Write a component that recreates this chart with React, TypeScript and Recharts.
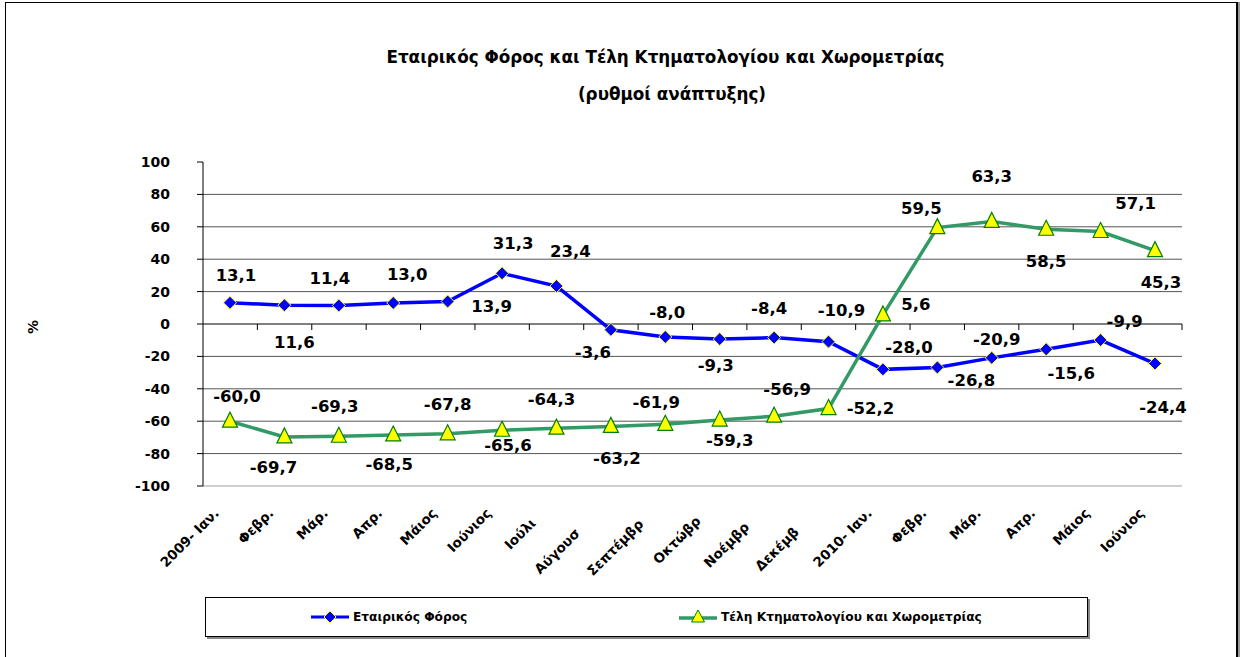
import React from "react";
import { LineChart, Line, XAxis, YAxis, ReferenceLine } from "recharts";

const months = [
  "2009- Ιαν.", "Φεβρ.", "Μάρ.", "Απρ.", "Μάιος", "Ιούνιος", "Ιούλι", "Αύγουσ", "Σεπτέμβρ",
  "Οκτώβρ", "Νοέμβρ", "Δεκέμβ", "2010- Ιαν.", "Φεβρ.", "Μάρ.", "Απρ.", "Μάιος", "Ιούνιος",
];
const corporateTax = [13.1, 11.6, 11.4, 13.0, 13.9, 31.3, 23.4, -3.6, -8.0, -9.3, -8.4, -10.9, -28.0, -26.8, -20.9, -15.6, -9.9, -24.4];
const cadastreFees = [-60.0, -69.7, -69.3, -68.5, -67.8, -65.6, -64.3, -63.2, -61.9, -59.3, -56.9, -52.2, 5.6, 59.5, 63.3, 58.5, 57.1, 45.3];
const yTicks = [-100, -80, -60, -40, -20, 0, 20, 40, 60, 80, 100];
const gridValues = [80, 60, 40, 20, -20, -40, -60, -80];

const seriesNames = ["Εταιρικός Φόρος", "Τέλη Κτηματολογίου και Χωρομετρίας"];
const titleLines = ["Εταιρικός Φόρος και Τέλη Κτηματολογίου και Χωρομετρίας", "(ρυθμοί ανάπτυξης)"];

// label offsets (styling)
const s1dx = [6, 10, -9, 14, 44, 11, 14, -18, 2, -4, -5, 13, 26, 34, 5, 25, 24, 8];
const s1dy = [-27, 37, -27, -28, 5, -30, -35, 23, -24, 26, -29, -31, -22, 13, -18, 24, -19, 44];
const s2dx = [7, -11, -4, -4, 0, 6, -5, 6, -9, 10, 13, 42, 33, -16, 0, 0, 35, 6];
const s2dy = [-25, 31, -30, 30, -29, 15, -29, 32, -22, 20, -27, 0, -10, -19, -45, 32, -28, 32];
const tickShift = [0, 0, 0, 0, 0, 0, 10, 20, 11, 8, 14, 19, 0, 0, 0, 0, 0, 0];

const data = months.map((m, i) => ({ month: m, a: corporateTax[i], b: cadastreFees[i] }));

const FONT = "'DejaVu Sans', sans-serif";
const fmt = (v: number) => v.toFixed(1).replace(".", ",");

const Diamond = (props: any) => {
  const { cx, cy } = props;
  if (cx == null || cy == null) return null;
  const r = 6.5;
  return (
    <polygon
      points={`${cx},${cy - r} ${cx + r},${cy} ${cx},${cy + r} ${cx - r},${cy}`}
      fill="#0000FF"
      stroke="#FFFF00"
      strokeWidth={1}
    />
  );
};

const Triangle = (props: any) => {
  const { cx, cy } = props;
  if (cx == null || cy == null) return null;
  const w = 7.5;
  return (
    <polygon
      points={`${cx},${cy - 9} ${cx + w},${cy + 6} ${cx - w},${cy + 6}`}
      fill="#FFFF00"
      stroke="#008000"
      strokeWidth={1.2}
    />
  );
};

const makeLabel = (dxs: number[], dys: number[]) => (props: any) => {
  const { x, y, index, value } = props;
  if (x == null || y == null) return null;
  return (
    <text
      x={x + dxs[index]}
      y={y + dys[index]}
      textAnchor="middle"
      dominantBaseline="central"
      fontFamily={FONT}
      fontWeight="bold"
      fontSize={16.5}
      fill="#000"
    >
      {fmt(Number(value))}
    </text>
  );
};

const MonthTick = (props: any) => {
  const { x, y, payload, index } = props;
  const s = tickShift[index] || 0;
  return (
    <g transform={`translate(${x - 10 - s},${y + 28 + s})`}>
      <text
        x={0}
        y={0}
        textAnchor="end"
        transform="rotate(-45)"
        fontFamily={FONT}
        fontWeight="bold"
        fontSize={13.5}
        fill="#000"
      >
        {payload.value}
      </text>
    </g>
  );
};

const ZeroLine = (p: any) => {
  const { x1, y1, x2, y2 } = p;
  const n = months.length;
  const lo = Math.min(x1, x2);
  const step = Math.abs(x2 - x1) / n;
  const ticks = [];
  for (let k = 1; k <= n; k++) {
    const tx = lo + step * k;
    ticks.push(<line key={k} x1={tx} y1={y1} x2={tx} y2={y1 + 6} stroke="#000" strokeWidth={1} />);
  }
  return (
    <g>
      <line x1={x1} y1={y1} x2={x2} y2={y2} stroke="#000" strokeWidth={1} />
      {ticks}
    </g>
  );
};

const LegendMarker = ({ kind }: { kind: "a" | "b" }) => (
  <svg width={38} height={16} style={{ display: "block" }}>
    {kind === "a" ? (
      <>
        <line x1={0} y1={8} x2={38} y2={8} stroke="#0000FF" strokeWidth={3} />
        <polygon points="19,2 25,8 19,14 13,8" fill="#0000FF" stroke="#FFFF00" strokeWidth={1} />
      </>
    ) : (
      <>
        <line x1={0} y1={9} x2={38} y2={9} stroke="#339966" strokeWidth={3.5} />
        <polygon points="19,1 25.5,13 12.5,13" fill="#FFFF00" stroke="#008000" strokeWidth={1} />
      </>
    )}
  </svg>
);

export default function App() {
  return (
    <div
      style={{
        position: "absolute",
        left: 0,
        top: 0,
        width: 1241,
        height: 657,
        overflow: "hidden",
        background: "#fff",
        fontFamily: FONT,
      }}
    >
      <div
        style={{
          position: "absolute",
          left: 5,
          top: 2,
          width: 1230,
          height: 720,
          borderLeft: "1px solid #000",
          borderTop: "1px solid #000",
          borderRight: "2px solid #000",
          boxShadow: "2px 0 0 #999",
        }}
      />
      <div
        style={{
          position: "absolute",
          left: 0,
          width: 1331,
          top: 46,
          textAlign: "center",
          fontWeight: "bold",
          fontSize: 16.8,
          lineHeight: "22px",
          whiteSpace: "nowrap",
        }}
      >
        {titleLines[0]}
      </div>
      <div
        style={{
          position: "absolute",
          left: 0,
          width: 1344,
          top: 83,
          textAlign: "center",
          fontWeight: "bold",
          fontSize: 16.8,
          lineHeight: "22px",
          whiteSpace: "nowrap",
        }}
      >
        {titleLines[1]}
      </div>
      <div
        style={{
          position: "absolute",
          left: 23,
          top: 317,
          width: 20,
          height: 20,
          fontWeight: "bold",
          fontSize: 14,
          lineHeight: "20px",
          textAlign: "center",
          transform: "rotate(-90deg)",
        }}
      >
        %
      </div>
      <div style={{ position: "absolute", left: 0, top: 0 }}>
        <LineChart
          width={1241}
          height={657}
          data={data}
          margin={{ top: 162, right: 59, left: 143, bottom: 111 }}
        >
          {gridValues.map((v) => (
            <ReferenceLine key={v} y={v} stroke="#555" strokeWidth={1} />
          ))}
          <ReferenceLine y={0} shape={ZeroLine} />
          <XAxis
            dataKey="month"
            interval={0}
            height={60}
            padding={{ left: 27, right: 27 }}
            tickLine={false}
            tickSize={0}
            tickMargin={0}
            axisLine={{ stroke: "#cfcfcf", strokeWidth: 2 }}
            tick={<MonthTick />}
          />
          <YAxis
            width={60}
            domain={[-100, 100]}
            ticks={yTicks}
            interval={0}
            tickSize={6}
            tickMargin={27}
            axisLine={{ stroke: "#000", strokeWidth: 1 }}
            tickLine={{ stroke: "#000" }}
            tick={{ fontFamily: FONT, fontWeight: "bold", fontSize: 14, fill: "#000" }}
          />
          <Line
            dataKey="a"
            name={seriesNames[0]}
            stroke="#0000FF"
            strokeWidth={3.5}
            dot={<Diamond />}
            activeDot={false}
            isAnimationActive={false}
            label={makeLabel(s1dx, s1dy)}
          />
          <Line
            dataKey="b"
            name={seriesNames[1]}
            stroke="#339966"
            strokeWidth={3.5}
            dot={<Triangle />}
            activeDot={false}
            isAnimationActive={false}
            label={makeLabel(s2dx, s2dy)}
          />
        </LineChart>
      </div>
      <div
        style={{
          position: "absolute",
          left: 205,
          top: 597,
          width: 881,
          height: 38,
          border: "1px solid #000",
          boxShadow: "2px 2px 0 #888",
          background: "#fff",
        }}
      >
        <div style={{ position: "absolute", left: 105, top: 11, display: "flex", alignItems: "center" }}>
          <LegendMarker kind="a" />
          <span style={{ marginLeft: 4, fontWeight: "bold", fontSize: 12.2, whiteSpace: "nowrap" }}>{seriesNames[0]}</span>
        </div>
        <div style={{ position: "absolute", left: 473, top: 11, display: "flex", alignItems: "center" }}>
          <LegendMarker kind="b" />
          <span style={{ marginLeft: 4, fontWeight: "bold", fontSize: 12.2, whiteSpace: "nowrap" }}>{seriesNames[1]}</span>
        </div>
      </div>
    </div>
  );
}
